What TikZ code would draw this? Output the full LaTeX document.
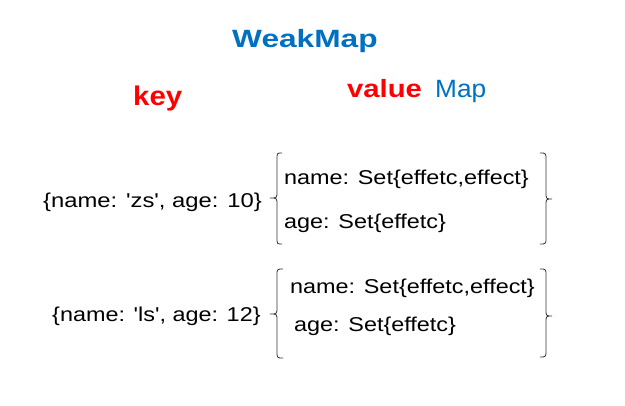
\documentclass[tikz,border=0pt]{standalone}
\usepackage{fontspec}
\usepackage{graphicx}
\setmainfont{Liberation Sans}
\definecolor{kblue}{RGB}{0,112,192}
\definecolor{kred}{RGB}{255,0,0}
\newcommand{\sxb}[2]{\scalebox{#1}[1]{#2}}
\newcommand{\qq}{\textquotesingle}
\tikzset{
  title/.style={inner sep=0pt, font=\fontsize{25}{30}\selectfont\bfseries},
  body/.style={inner sep=0pt, font=\fontsize{20}{24}\selectfont, anchor=base west},
  bracepath/.style={draw=black!80, line width=0.8pt},
}
\begin{document}
\begin{tikzpicture}[x=1pt,y=-1pt]
\path[use as bounding box, fill=white] (0,0) rectangle (625,406);
% titles
\node[title, text=kblue, anchor=base west] (wm) at (232,47.3) {\sxb{1.266}{WeakMap}};
\node[title, text=kred, anchor=base west, font=\fontsize{27}{32}\selectfont\bfseries] (key) at (133,106) {\sxb{1.09}{key}};
\node[title, text=kred, anchor=base west] (val) at (347,97.3) {\sxb{1.17}{value}};
\node[inner sep=0pt, text=kblue, anchor=base west, font=\fontsize{25}{30}\selectfont] (map) at (435,97.3) {\sxb{1.05}{Map}};
% first object
\node[body] (k1) at (43,207.5) {\sxb{1.19}{\{name: \qq zs\qq, age: 10\}}};
\node[body] (v1a) at (284,184.5) {\sxb{1.17}{name: Set\{effetc,effect\}}};
\node[body] (v1b) at (284,228.5) {\sxb{1.17}{age: Set\{effetc\}}};
% second object
\node[body] (k2) at (52,321.5) {\sxb{1.17}{\{name: \qq ls\qq, age: 12\}}};
\node[body] (v2a) at (290,293.5) {\sxb{1.17}{name: Set\{effetc,effect\}}};
\node[body] (v2b) at (294,331.5) {\sxb{1.17}{age: Set\{effetc\}}};
% braces
\draw[bracepath] (282,153) .. controls (277,153) .. (277,160) -- (277,191)
  .. controls (277,198) .. (270,198) .. controls (277,198) .. (277,205)
  -- (277,237) .. controls (277,244) .. (282,244);
\draw[bracepath] (540,153) .. controls (546,153) .. (546,160) -- (546,192)
  .. controls (546,199) .. (552,199) .. controls (546,199) .. (546,206)
  -- (546,237) .. controls (546,244) .. (540,244);
\draw[bracepath] (283,269) .. controls (277,269) .. (277,276) -- (277,307)
  .. controls (277,314) .. (270,314) .. controls (277,314) .. (277,321)
  -- (277,351) .. controls (277,358) .. (283,358);
\draw[bracepath] (540,269) .. controls (546,269) .. (546,276) -- (546,309)
  .. controls (546,316) .. (552,316) .. controls (546,316) .. (546,323)
  -- (546,350) .. controls (546,357) .. (540,357);
\end{tikzpicture}
\end{document}
